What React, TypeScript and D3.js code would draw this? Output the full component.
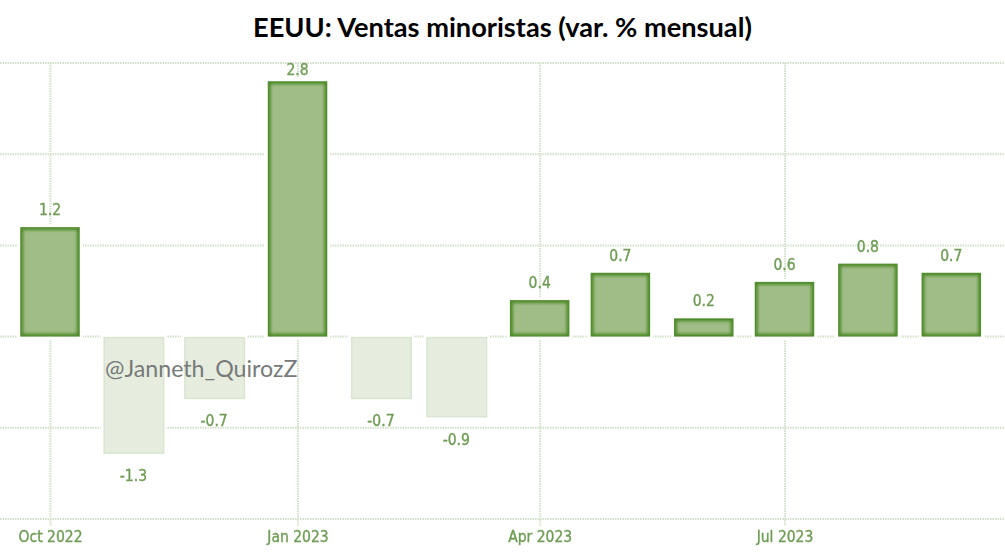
import React from "react";
import * as d3 from "d3";

const months = ["2022-10-01","2022-11-01","2022-12-01","2023-01-01","2023-02-01","2023-03-01","2023-04-01","2023-05-01","2023-06-01","2023-07-01","2023-08-01","2023-09-01"];
const values = [1.2,-1.3,-0.7,2.8,-0.7,-0.9,0.4,0.7,0.2,0.6,0.8,0.7];
const valueLabels = ["1.2","-1.3","-0.7","2.8","-0.7","-0.9","0.4","0.7","0.2","0.6","0.8","0.7"];
const yTicks = [3,2,1,0,-1,-2];
const xTicks = ["2022-10-01","2023-01-01","2023-04-01","2023-07-01"];
const xTickLabels = ["Oct 2022","Jan 2023","Apr 2023","Jul 2023"];
const title = "EEUU: Ventas minoristas (var. % mensual)";
const watermark = "@Janneth_QuirozZ";

const W = 1005, H = 555;
const x = d3.scaleUtc().domain([new Date("2022-10-01"), new Date("2023-07-01")]).range([50.5, 785]);
const y = d3.scaleLinear().domain([3, -2]).range([63, 519]);
const BW = 59.5;
const GRID = "#d2e0ca";
const LABEL = "#6f9c55";
const LABELFONT = "'DejaVu Sans Condensed', 'DejaVu Sans'";

export default function App() {
  return (
    <svg width={W} height={H} viewBox={`0 0 ${W} ${H}`} style={{ position: "absolute", left: 0, top: 0, background: "#fff" }}>
      <defs>
        <filter id="soft" x="-10%" y="-10%" width="120%" height="120%"><feGaussianBlur stdDeviation="1.5" /></filter>
        <filter id="tiny" x="-5%" y="-5%" width="110%" height="110%"><feGaussianBlur stdDeviation="0.4" /></filter>
        <filter id="txt" x="-5%" y="-20%" width="110%" height="140%"><feGaussianBlur stdDeviation="0.25" /></filter>
      </defs>
      <text x={502.5} y={36.5} textAnchor="middle" fontFamily="Lato" fontWeight={700} fontSize={27.2} fill="#000">{title}</text>
      <g stroke={GRID} strokeWidth={2} strokeDasharray="1.5 1">
        {yTicks.map(t => <line key={t} x1={0} x2={W} y1={y(t)} y2={y(t)} />)}
        {xTicks.map(t => <line key={t} x1={x(new Date(t))} x2={x(new Date(t))} y1={y(3)} y2={526} />)}
      </g>
      {months.map((m, i) => {
        const v = values[i];
        const cx = x(new Date(m)) - 0.5;
        const top = y(Math.max(v, 0));
        const h = Math.abs(y(v) - y(0));
        const left = cx - BW / 2;
        const labelY = v >= 0 ? Math.max(y(v) - 12, 75) : y(v) + 26;
        return (
          <g key={m}>
            <rect x={left - 3} y={top - 3} width={BW + 6} height={h + 6} fill="#fff" />
            {v >= 0 ? (
              <g>
                <rect x={left} y={top} width={BW} height={h} fill="#4f8b2c" filter="url(#tiny)" />
                <rect x={left + 3} y={top + 3} width={BW - 6} height={Math.max(h - 6, 1)} fill="#a0bd87" filter="url(#soft)" />
              </g>
            ) : (
              <rect x={left + 0.5} y={top + 1} width={BW} height={h - 3} fill="#e6eddf" stroke="#d9e4d1" strokeWidth={1.5} />
            )}
            <text x={cx} y={labelY} textAnchor="middle" fontFamily={LABELFONT} fontSize={15.5} fill={LABEL} stroke={LABEL} strokeWidth={0.35} filter="url(#txt)">{valueLabels[i]}</text>
          </g>
        );
      })}
      {xTicks.map((t, i) => (
        <text key={t} x={x(new Date(t))} y={542} textAnchor="middle" fontFamily={LABELFONT} fontSize={15.5} fill={LABEL} stroke={LABEL} strokeWidth={0.35} filter="url(#txt)">{xTickLabels[i]}</text>
      ))}
      <text x={105} y={377} fontFamily="Lato" fontSize={23.2} fill="#777a7a">{watermark}</text>
    </svg>
  );
}
